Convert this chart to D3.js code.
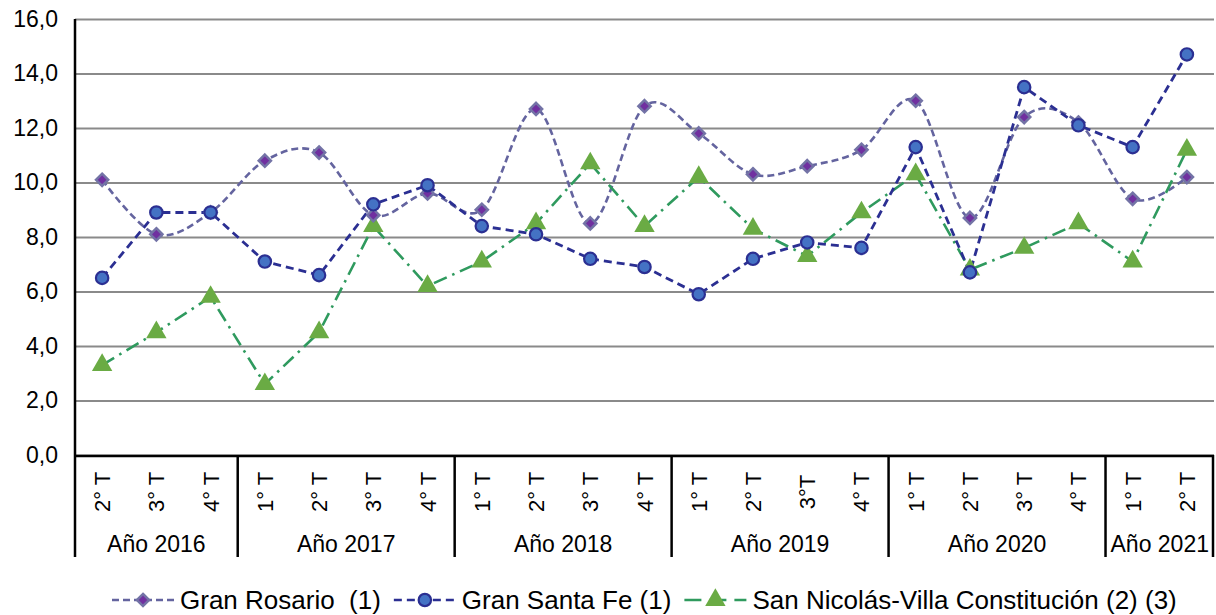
<!DOCTYPE html>
<html>
<head>
<meta charset="utf-8">
<script src="https://cdn.jsdelivr.net/npm/d3@7"></script>
<style>
  body { margin: 0; background: #fff; }
  svg { font-family: "Liberation Sans", Arial, sans-serif; }
</style>
</head>
<body>
<div id="chart"></div>
<script>
var W = 1216, H = 615;

// categories
var quarters = ['2° T','3° T','4° T',
                '1° T','2° T','3° T','4° T',
                '1° T','2° T','3° T','4° T',
                '1° T','2° T','3°T','4° T',
                '1° T','2° T','3° T','4° T',
                '1° T','2° T'];
var years = ['Año 2016','Año 2017','Año 2018','Año 2019','Año 2020','Año 2021'];
var quartersPerYear = [3, 4, 4, 4, 4, 2];

// series values
var granRosario = [10.1, 8.1, 8.9, 10.8, 11.1, 8.8, 9.6, 9.0, 12.7, 8.5, 12.8,
                   11.8, 10.3, 10.6, 11.2, 13.0, 8.7, 12.4, 12.2, 9.4, 10.2];
var granSantaFe = [6.5, 8.9, 8.9, 7.1, 6.6, 9.2, 9.9, 8.4, 8.1, 7.2, 6.9,
                   5.9, 7.2, 7.8, 7.6, 11.3, 6.7, 13.5, 12.1, 11.3, 14.7];
var sanNicolas = [3.3, 4.5, 5.8, 2.6, 4.5, 8.4, 6.2, 7.1, 8.5, 10.7, 8.4,
                  10.2, 8.3, 7.3, 8.9, 10.3, 6.8, 7.6, 8.5, 7.1, 11.2];

var yTicks = [0, 2, 4, 6, 8, 10, 12, 14, 16];

var seriesNames = ['Gran Rosario  (1)', 'Gran Santa Fe (1)', 'San Nicolás-Villa Constitución (2) (3)'];

var margin = {left: 75, right: 2, top: 19, bottom: 160};
var plotRight = W - margin.right;
var plotBottom = H - margin.bottom;

var svg = d3.select('#chart').append('svg')
  .attr('width', W)
  .attr('height', H);

var x = d3.scaleBand()
  .domain(d3.range(quarters.length))
  .range([margin.left, plotRight])
  .padding(0);

var y = d3.scaleLinear()
  .domain([0, 16])
  .range([plotBottom, margin.top]);

var loc = d3.formatLocale({decimal: ',', thousands: '.', grouping: [3], currency: ['', '']});
var fmt = loc.format('.1f');

// grid + y labels
var yAxis = d3.axisLeft(y)
  .tickValues(yTicks)
  .tickFormat(fmt)
  .tickSize(-(plotRight - margin.left))
  .tickPadding(17);

var gy = svg.append('g')
  .attr('transform', 'translate(' + margin.left + ',0)')
  .call(yAxis);
gy.select('.domain').remove();
gy.selectAll('.tick line')
  .attr('stroke', '#8a8a8a')
  .attr('stroke-width', 2.2);
gy.selectAll('.tick text')
  .attr('fill', '#000')
  .style('font-size', '23px')
  .style('font-family', '"Liberation Sans", Arial, sans-serif');

// axis lines
svg.append('line')
  .attr('x1', margin.left).attr('x2', margin.left)
  .attr('y1', margin.top).attr('y2', plotBottom)
  .attr('stroke', '#000').attr('stroke-width', 2.5);
svg.append('line')
  .attr('x1', margin.left).attr('x2', plotRight)
  .attr('y1', y(0) + 1).attr('y2', y(0) + 1)
  .attr('stroke', '#000').attr('stroke-width', 2.5);

// year separators + labels
var bounds = [0];
quartersPerYear.forEach(function(n, i) { bounds.push(bounds[i] + n); });
var sepBottom = 557;

svg.selectAll('.sep')
  .data(bounds)
  .enter().append('line')
  .attr('class', 'sep')
  .attr('x1', function(b) { return b < quarters.length ? x(b) : plotRight - 1; })
  .attr('x2', function(b) { return b < quarters.length ? x(b) : plotRight - 1; })
  .attr('y1', y(0))
  .attr('y2', sepBottom)
  .attr('stroke', '#000')
  .attr('stroke-width', 2.5);

svg.selectAll('.year')
  .data(years)
  .enter().append('text')
  .attr('class', 'year')
  .attr('x', function(d, i) {
    var a = x(bounds[i]);
    var b = bounds[i + 1] < quarters.length ? x(bounds[i + 1]) : plotRight;
    return (a + b) / 2;
  })
  .attr('y', 552)
  .attr('text-anchor', 'middle')
  .style('font-size', '23px')
  .text(function(d) { return d; });

// quarter labels (rotated)
svg.selectAll('.q')
  .data(quarters)
  .enter().append('text')
  .attr('class', 'q')
  .attr('transform', function(d, i) {
    return 'translate(' + (x(i) + x.bandwidth() / 2 + 8) + ',492) rotate(-90)';
  })
  .attr('text-anchor', 'middle')
  .style('font-size', '22px')
  .text(function(d) { return d; });

var cx = function(d, i) { return x(i) + x.bandwidth() / 2; };

// Gran Rosario - smoothed dashed
var lineSmooth = d3.line()
  .x(cx)
  .y(function(d) { return y(d); })
  .curve(d3.curveCardinal.tension(0));

var lineStraight = d3.line()
  .x(cx)
  .y(function(d) { return y(d); });

svg.append('path')
  .datum(granRosario)
  .attr('d', lineSmooth)
  .attr('fill', 'none')
  .attr('stroke', '#64649f')
  .attr('stroke-width', 2.6)
  .attr('stroke-dasharray', '7,4');

svg.append('path')
  .datum(sanNicolas)
  .attr('d', lineStraight)
  .attr('fill', 'none')
  .attr('stroke', '#2f9a5e')
  .attr('stroke-width', 2.6)
  .attr('stroke-dasharray', '14,6,2.5,6');

svg.append('path')
  .datum(granSantaFe)
  .attr('d', lineStraight)
  .attr('fill', 'none')
  .attr('stroke', '#2b2f92')
  .attr('stroke-width', 2.8)
  .attr('stroke-dasharray', '8,5');

// markers
var diamond = d3.symbol().type(d3.symbolDiamond2).size(95);
var triangle = d3.symbol().type(d3.symbolTriangle).size(180);

function drawDiamond(g, px, py) {
  g.append('path')
    .attr('d', diamond)
    .attr('transform', 'translate(' + px + ',' + py + ')')
    .attr('fill', '#7030a0')
    .attr('stroke', '#7373a6')
    .attr('stroke-width', 2.5);
}
function drawCircle(g, px, py) {
  g.append('circle')
    .attr('cx', px).attr('cy', py).attr('r', 6.2)
    .attr('fill', '#4472c4')
    .attr('stroke', '#2b2f92')
    .attr('stroke-width', 2.2);
}
function drawTriangle(g, px, py) {
  g.append('path')
    .attr('d', triangle)
    .attr('transform', 'translate(' + px + ',' + py + ')')
    .attr('fill', '#6aab44');
}

var gm = svg.append('g');
sanNicolas.forEach(function(d, i) { drawTriangle(gm, cx(d, i), y(d)); });
granRosario.forEach(function(d, i) { drawDiamond(gm, cx(d, i), y(d)); });
granSantaFe.forEach(function(d, i) { drawCircle(gm, cx(d, i), y(d)); });

// legend
var legY = 600;
var lg = svg.append('g');
var lx = 112;
var styles = [
  {stroke: '#64649f', dash: '7,4', draw: drawDiamond},
  {stroke: '#2b2f92', dash: '8,5', draw: drawCircle},
  {stroke: '#2f9a5e', dash: '17,8', draw: drawTriangle}
];
seriesNames.forEach(function(name, i) {
  var s = styles[i];
  lg.append('line')
    .attr('x1', lx).attr('x2', lx + 62)
    .attr('y1', legY).attr('y2', legY)
    .attr('stroke', s.stroke)
    .attr('stroke-width', 2.6)
    .attr('stroke-dasharray', s.dash);
  s.draw(lg, lx + 31, legY);
  var t = lg.append('text')
    .attr('x', lx + 68)
    .attr('y', legY + 9)
    .style('font-size', '26px')
    .style('white-space', 'pre')
    .attr('xml:space', 'preserve')
    .text(name);
  lx = lx + 68 + t.node().getComputedTextLength() + 13;
});
</script>
</body>
</html>
